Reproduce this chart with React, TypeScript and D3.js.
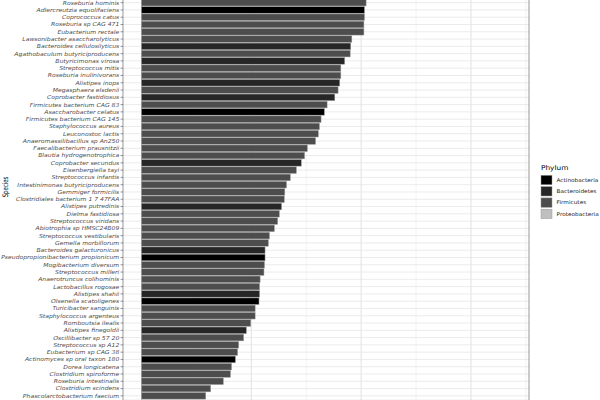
import * as d3 from "d3";

const WIDTH = 600;
const HEIGHT = 400;
// panel edges; top and bottom run just past the picture
const PANEL = { left: 123, right: 529, top: -1.7, bottom: 400.2 };
// the reference is squeezed vertically, text included
const SQUASH = 0.71;
const TEXT_SQUASH = 0.9;
const FONT = "'DejaVu Sans', sans-serif";

const species = [
  "Roseburia hominis",
  "Adlercreutzia equolifaciens",
  "Coprococcus catus",
  "Roseburia sp CAG 471",
  "Eubacterium rectale",
  "Lawsonibacter asaccharolyticus",
  "Bacteroides cellulosilyticus",
  "Agathobaculum butyriciproducens",
  "Butyricimonas virosa",
  "Streptococcus mitis",
  "Roseburia inulinivorans",
  "Alistipes inops",
  "Megasphaera elsdenii",
  "Coprobacter fastidiosus",
  "Firmicutes bacterium CAG 83",
  "Asaccharobacter celatus",
  "Firmicutes bacterium CAG 145",
  "Staphylococcus aureus",
  "Leuconostoc lactis",
  "Anaeromassilibacillus sp An250",
  "Faecalibacterium prausnitzii",
  "Blautia hydrogenotrophica",
  "Coprobacter secundus",
  "Eisenbergiella tayi",
  "Streptococcus infantis",
  "Intestinimonas butyriciproducens",
  "Gemmiger formicilis",
  "Clostridiales bacterium 1 7 47FAA",
  "Alistipes putredinis",
  "Dielma fastidiosa",
  "Streptococcus viridans",
  "Abiotrophia sp HMSC24B09",
  "Streptococcus vestibularis",
  "Gemella morbillorum",
  "Bacteroides galacturonicus",
  "Pseudopropionibacterium propionicum",
  "Mogibacterium diversum",
  "Streptococcus milleri",
  "Anaerotruncus colihominis",
  "Lactobacillus rogosae",
  "Alistipes shahii",
  "Olsenella scatoligenes",
  "Turicibacter sanguinis",
  "Staphylococcus argenteus",
  "Romboutsia ilealis",
  "Alistipes finegoldii",
  "Oscillibacter sp 57 20",
  "Streptococcus sp A12",
  "Eubacterium sp CAG 38",
  "Actinomyces sp oral taxon 180",
  "Dorea longicatena",
  "Clostridium spiroforme",
  "Roseburia intestinalis",
  "Clostridium scindens",
  "Phascolarctobacterium faecium",
];

const values = [
  4.09, 4.06, 4.06, 4.05, 4.05, 3.83, 3.81, 3.8, 3.7, 3.63, 3.63, 3.61, 3.58,
  3.52, 3.38, 3.33, 3.27, 3.24, 3.22, 3.17, 3.02, 2.97, 2.91, 2.82, 2.71, 2.64,
  2.61, 2.6, 2.55, 2.51, 2.48, 2.42, 2.33, 2.31, 2.25, 2.25, 2.24, 2.23, 2.16,
  2.15, 2.15, 2.14, 2.07, 2.07, 1.99, 1.91, 1.86, 1.77, 1.75, 1.71, 1.64, 1.62,
  1.49, 1.26, 1.17,
];

// A = Actinobacteria, B = Bacteroidetes, F = Firmicutes
const phylumCodes = [
  "F", "A", "F", "F", "F", "F", "B", "F", "B", "F", "F", "B", "F", "B", "F",
  "A", "F", "F", "F", "F", "F", "F", "B", "F", "F", "F", "F", "F", "B", "F",
  "F", "F", "F", "F", "B", "A", "F", "F", "F", "F", "B", "A", "F", "F", "F",
  "B", "F", "F", "F", "A", "F", "F", "F", "F", "F",
];
const codeNames: Record<string, string> = {
  A: "Actinobacteria",
  B: "Bacteroidetes",
  F: "Firmicutes",
  P: "Proteobacteria",
};

const phylumNames = ["Actinobacteria", "Bacteroidetes", "Firmicutes", "Proteobacteria"];
const phylumColors = ["#000000", "#262626", "#4d4d4d", "#bfbfbf"];

const X_LIMIT = 6.72;
const majorBreaks = [0, 2, 4, 6];
const minorBreaks = [1, 3, 5, 7];

export default function App() {
  const expand = X_LIMIT * 0.05;
  const xScale = d3
    .scaleLinear()
    .domain([-expand, X_LIMIT + expand])
    .range([PANEL.left, PANEL.right]);

  const yScale = d3
    .scalePoint<string>()
    .domain(species)
    .range([PANEL.top, PANEL.bottom])
    .padding(0.6);
  const barHeight = yScale.step() * 0.9;

  const color = d3.scaleOrdinal<string, string>().domain(phylumNames).range(phylumColors);

  const rows = species.map((name, i) => ({
    name,
    value: values[i],
    phylum: codeNames[phylumCodes[i]],
  }));

  return (
    <div style={{ position: "absolute", left: 0, top: 0 }}>
      <svg width={WIDTH} height={HEIGHT} style={{ display: "block", background: "white" }}>
        {/* panel grid */}
        {minorBreaks.map((b) => (
          <line
            key={"mi" + b}
            x1={xScale(b)}
            x2={xScale(b)}
            y1={PANEL.top}
            y2={PANEL.bottom}
            stroke="#e6e6e6"
            strokeWidth={0.5}
          />
        ))}
        {majorBreaks.map((b) => (
          <line
            key={"ma" + b}
            x1={xScale(b)}
            x2={xScale(b)}
            y1={PANEL.top}
            y2={PANEL.bottom}
            stroke="#dedede"
            strokeWidth={0.9}
          />
        ))}
        {species.map((s) => (
          <line
            key={"h" + s}
            x1={PANEL.left}
            x2={PANEL.right}
            y1={yScale(s)}
            y2={yScale(s)}
            stroke="#e6e6e6"
            strokeWidth={0.8}
          />
        ))}

        {/* bars */}
        {rows.map((d) => (
          <rect
            key={d.name}
            x={xScale(0)}
            y={(yScale(d.name) || 0) - barHeight / 2}
            width={xScale(d.value) - xScale(0)}
            height={barHeight}
            fill={color(d.phylum)}
            stroke="#9a9a9a"
            strokeWidth={0.5}
          />
        ))}

        {/* panel border */}
        <rect
          x={PANEL.left}
          y={PANEL.top}
          width={PANEL.right - PANEL.left}
          height={PANEL.bottom - PANEL.top}
          fill="none"
          stroke="#333333"
          strokeWidth={0.5}
        />

        {/* y axis */}
        {species.map((s) => (
          <g key={"t" + s} transform={`translate(0,${yScale(s)})`}>
            <line x1={120.5} x2={PANEL.left} stroke="#333333" strokeWidth={0.5} />
            <text
              transform={`translate(119.3,0) scale(1,${TEXT_SQUASH})`}
              textAnchor="end"
              dy="0.35em"
              fontSize={6.1}
              fontStyle="italic"
              fontFamily={FONT}
              fill="#4d4d4d"
            >
              {s}
            </text>
          </g>
        ))}
        <text
          transform={`translate(7.8,187) scale(1,${SQUASH}) rotate(-90)`}
          textAnchor="middle"
          fontSize={7.6}
          fontFamily={FONT}
          fill="#000"
        >
          Species
        </text>

        {/* legend */}
        <text
          transform={`translate(541,170) scale(1,${TEXT_SQUASH})`}
          fontSize={7.4}
          fontFamily={FONT}
          fill="#000"
        >
          Phylum
        </text>
        {phylumNames.map((p, i) => (
          <g key={p} transform={`translate(541,${175.3 + i * 11.3})`}>
            <rect width={11} height={9.4} fill={color(p)} stroke="#9a9a9a" strokeWidth={0.5} />
            <text
              transform={`translate(15.5,4.7) scale(1,${TEXT_SQUASH})`}
              dy="0.35em"
              fontSize={5.8}
              fontFamily={FONT}
              fill="#1a1a1a"
            >
              {p}
            </text>
          </g>
        ))}
      </svg>
    </div>
  );
}
